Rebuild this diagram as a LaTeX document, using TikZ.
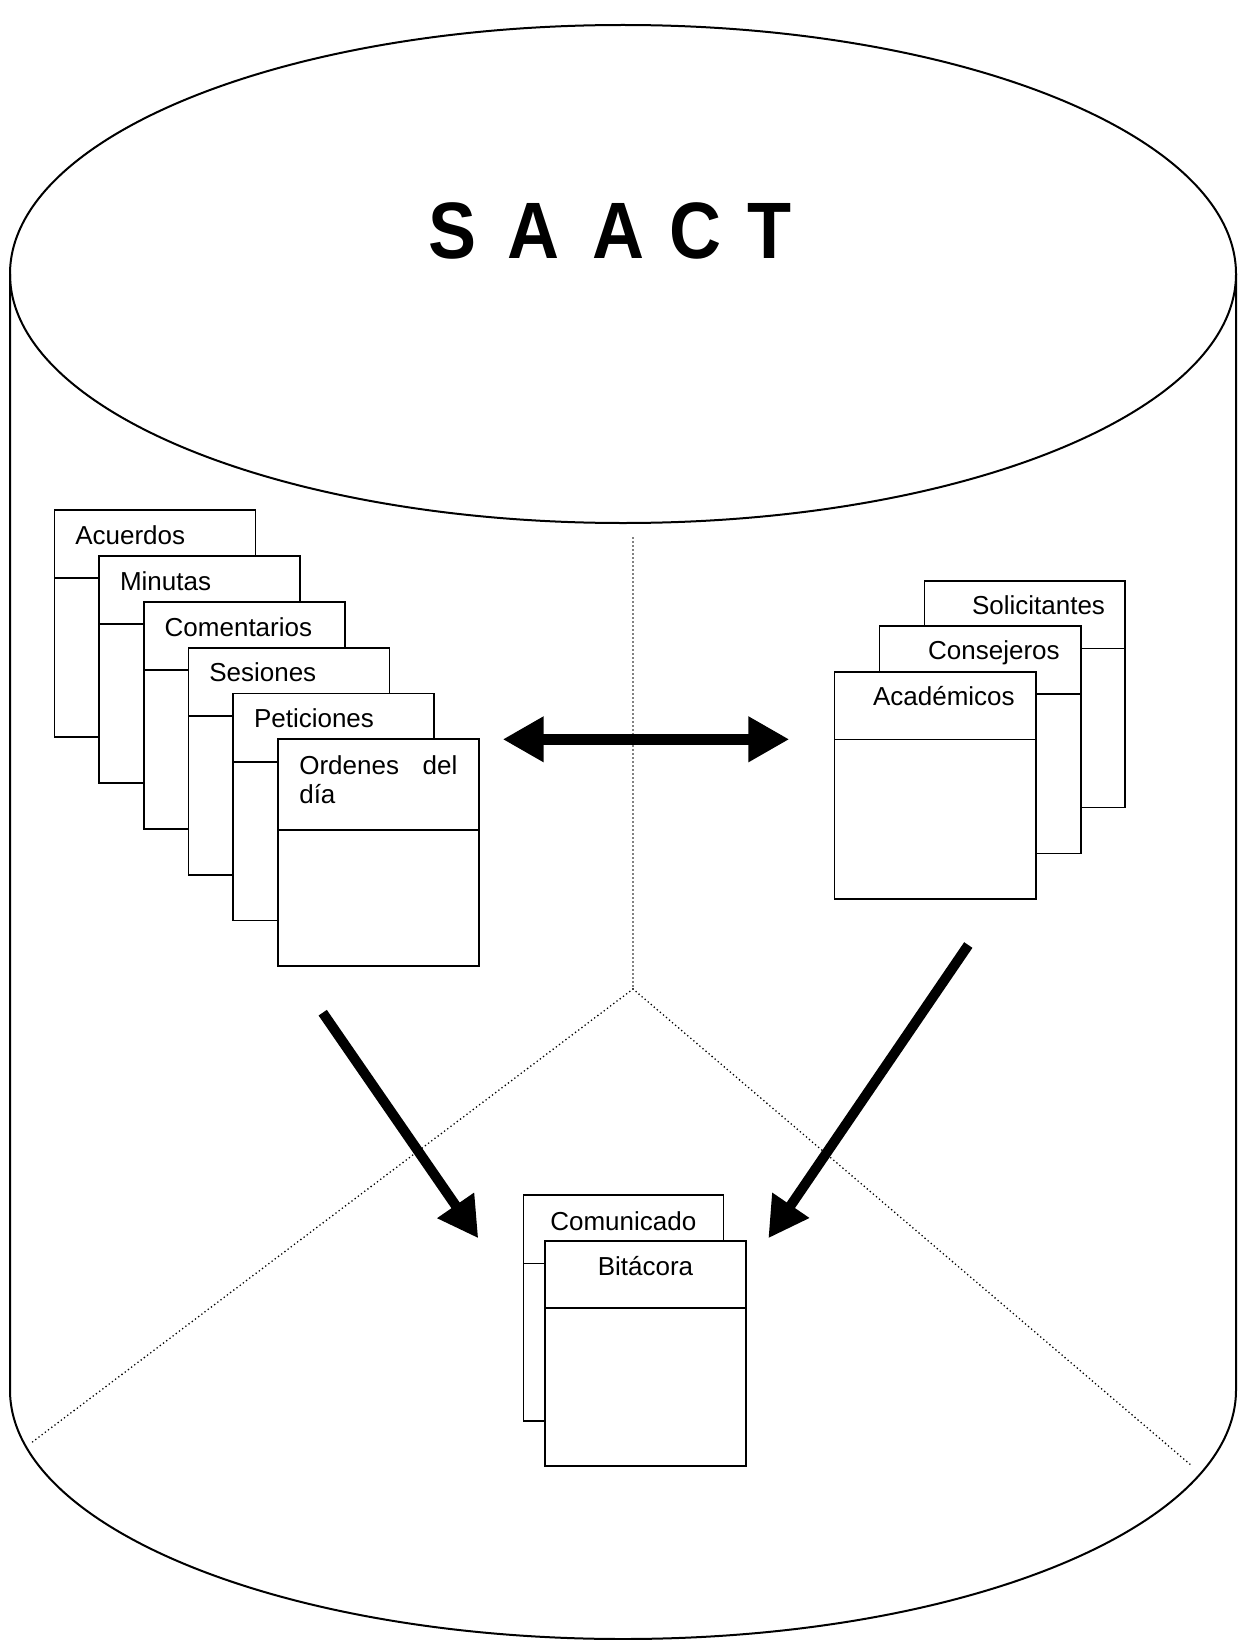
\documentclass[tikz,border=0pt]{standalone}
\usepackage{fontspec}
\setmainfont{Liberation Sans}
\usepackage{graphicx}
\usetikzlibrary{arrows.meta}

\tikzset{
  cyl/.style={line width=2pt},
  sep/.style={line width=1.8pt, line cap=round, dash pattern=on 0pt off 4pt},
  tblbox/.style={draw, fill=white, line width=1.6pt, anchor=north west,
                 inner sep=0pt, outer sep=0pt},
  tblline/.style={line width=1.6pt},
  lbl/.style={inner sep=0pt, outer sep=0pt, font=\fontsize{26}{29.3}\selectfont},
  flow/.style={line width=10pt, -{Triangle[length=40pt,width=42pt]}},
  swap/.style={line width=11pt,
    {Triangle[length=41pt,width=43pt]}-{Triangle[length=41pt,width=43pt]}},
}

% table box: name, left, top, width, height, header height
\newcommand\tbl[6]{%
  \node[tblbox, minimum width=#4pt, minimum height=#5pt] (#1) at (#2,#3) {};
  \draw[tblline] ([yshift=-#6pt]#1.north west) -- ([yshift=-#6pt]#1.north east);
}

\begin{document}
\begin{tikzpicture}[x=1pt,y=-1pt]
  \useasboundingbox (0,0) rectangle (1238,1640);
  \fill[white] (0,0) rectangle (1238,1640);

  % database cylinder
  \draw[cyl] (10,274) -- (10,1390)
    arc[start angle=180, end angle=0, x radius=613, y radius=249] -- (1236,274);
  \draw[cyl] (623,274) ellipse [x radius=613, y radius=249];

  \node[anchor=base west, inner sep=0pt] (title) at (428.2,258)
    {\scalebox{0.9}[1]{\fontsize{80}{80}\selectfont\bfseries
      S\hspace{34.5pt}A\hspace{36.7pt}A\hspace{28.3pt}C\hspace{28.4pt}T}};

  % dotted partitions
  \coordinate (top) at (633,538);
  \coordinate (hub) at (633,989);
  \coordinate (endl) at (31,1443);
  \coordinate (endr) at (1192,1466);
  \draw[sep] (top) -- (hub);
  \draw[sep] (hub) -- (endl);
  \draw[sep] (hub) -- (endr);

  % left stack
  \tbl{acuerdos}{54.3}{510}{201}{227}{67.7}
  \node[lbl, anchor=base west] (acuerdos-l) at ([xshift=21pt,yshift=-34pt]acuerdos.north west) {Acuerdos};
  \tbl{minutas}{99}{556}{201}{227}{68}
  \node[lbl, anchor=base west] (minutas-l) at ([xshift=21pt,yshift=-34pt]minutas.north west) {Minutas};
  \tbl{comentarios}{143.7}{602}{201}{227}{68}
  \node[lbl, anchor=base west] (comentarios-l) at ([xshift=21pt,yshift=-34pt]comentarios.north west) {Comentarios};
  \tbl{sesiones}{188.3}{647.7}{201}{227}{68}
  \node[lbl, anchor=base west] (sesiones-l) at ([xshift=21pt,yshift=-34pt]sesiones.north west) {Sesiones};
  \tbl{peticiones}{233}{693.3}{201}{227}{68.4}
  \node[lbl, anchor=base west] (peticiones-l) at ([xshift=21pt,yshift=-34pt]peticiones.north west) {Peticiones};
  \tbl{ordenes}{277.7}{738.7}{201}{227}{91.3}
  \node[lbl, anchor=base west, text width=158pt, align=left] (ordenes-l)
    at ([xshift=21.6pt,yshift=-35.3pt]ordenes.north west) {Ordenes\hfill del\\día};

  % right stack
  \tbl{solicitantes}{924.3}{580.7}{200.7}{226.6}{67.6}
  \node[lbl, anchor=base east] (solicitantes-l) at ([xshift=-20pt,yshift=-33.5pt]solicitantes.north east) {Solicitantes};
  \tbl{consejeros}{879.3}{626}{201.4}{227.3}{68}
  \node[lbl, anchor=base east] (consejeros-l) at ([xshift=-21pt,yshift=-33.5pt]consejeros.north east) {Consejeros};
  \tbl{academicos}{834.3}{671.7}{201.4}{227.3}{67.6}
  \node[lbl, anchor=base east] (academicos-l) at ([xshift=-21pt,yshift=-33.5pt]academicos.north east) {Académicos};

  % bottom stack
  \tbl{comunicado}{523.3}{1195}{200}{225.7}{68.3}
  \node[lbl, anchor=base] (comunicado-l) at ([yshift=-35pt]comunicado.north) {Comunicado};
  \tbl{bitacora}{545}{1240.7}{201}{225}{67}
  \node[lbl, anchor=base] (bitacora-l) at ([yshift=-34.3pt]bitacora.north) {Bitácora};

  % data flow arrows
  \coordinate (xl) at (502.7,739.3);
  \coordinate (xr) at (789.3,739.3);
  \draw[swap] (xl) -- (xr);

  \coordinate (fl0) at (322.7,1012.7);
  \coordinate (fl1) at (478.3,1238.3);
  \draw[flow] (fl0) -- (fl1);

  \coordinate (fr0) at (968.3,945);
  \coordinate (fr1) at (768.3,1238.3);
  \draw[flow] (fr0) -- (fr1);
\end{tikzpicture}
\end{document}
